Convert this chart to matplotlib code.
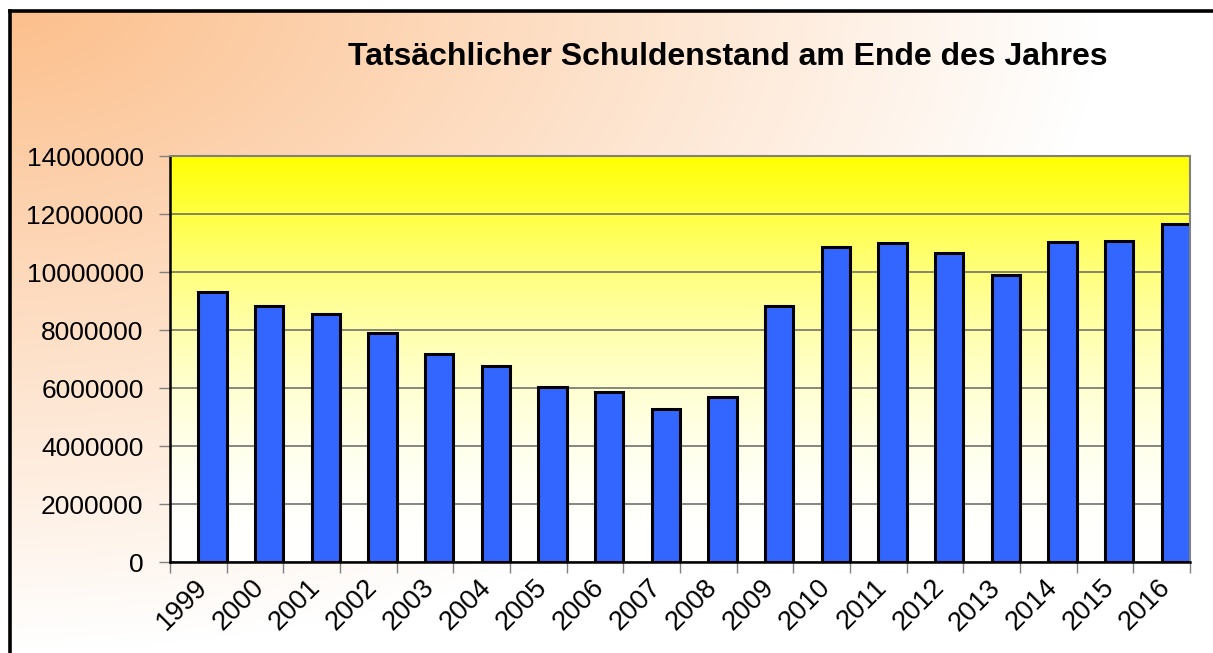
import numpy as np
import matplotlib
matplotlib.use('Agg')
import matplotlib.pyplot as plt
import matplotlib.transforms as mtransforms
from matplotlib.lines import Line2D

plt.rcParams['font.family'] = ['Liberation Sans', 'DejaVu Sans']

# data
annees = ['1999', '2000', '2001', '2002', '2003', '2004', '2005', '2006', '2007',
          '2008', '2009', '2010', '2011', '2012', '2013', '2014', '2015', '2016']
schulden = [9320000, 8820000, 8540000, 7890000, 7160000, 6760000, 6050000, 5850000, 5270000,
            5700000, 8840000, 10870000, 11010000, 10670000, 9900000, 11020000, 11060000, 11670000]
titre = 'Tatsächlicher Schuldenstand am Ende des Jahres'

W, H = 1213, 653
fig = plt.figure(figsize=(W / 100, H / 100), dpi=100)
fig.patch.set_facecolor('white')

# background gradient (orange in the top left corner -> white)
bg = fig.add_axes([0, 0, 1, 1], zorder=-10)
bg.set_axis_off()
xx, yy = np.meshgrid(np.linspace(0, 1, 400), np.linspace(0, 1, 220))
d = np.sqrt((xx * W / 1100.0) ** 2 + (yy * H / 650.0) ** 2)
f = np.clip(1 - d, 0, 1)[..., None]
orange = np.array([252, 190, 138]) / 255.0
img = (1 - f) * np.ones(3) + f * orange
bg.imshow(img, extent=[0, 1, 1, 0], aspect='auto', interpolation='bilinear')
bg.set_xlim(0, 1)
bg.set_ylim(1, 0)
# black frame on left and top
bg.add_line(Line2D([10 / W, 10 / W], [1, 11 / H], color='black', lw=2.6))
bg.add_line(Line2D([10 / W, 1], [11 / H, 11 / H], color='black', lw=2.6))
bg.fill_between([0, 8.5 / W], 0, 1, color='white')
bg.fill_between([0, 1], 0, 9.5 / H, color='white')

ax = fig.add_axes([170 / W, (H - 562) / H, 1020 / W, 406 / H])

# plot area gradient (yellow top -> white bottom)
t = np.linspace(0, 1, 256)[:, None]
blue = 1 - (1 - t) ** 2.0
grad = np.dstack([np.ones_like(blue), np.ones_like(blue), blue])
ax.imshow(grad, extent=[0, 18, 0, 14000000], aspect='auto', interpolation='bilinear', zorder=0)

x = np.arange(len(annees))
ax.bar(x + 0.75, schulden, width=0.5, color='#3366FF', edgecolor='black', linewidth=2.2, zorder=2)

ax.set_xlim(0, 18)
ax.set_ylim(0, 14000000)
ax.set_yticks(np.arange(0, 14000001, 2000000))
ax.yaxis.set_major_formatter(matplotlib.ticker.StrMethodFormatter('{x:.0f}'))
ax.grid(axis='y', color='#666666', lw=1.1)
ax.set_axisbelow(True)

ax.set_xticks(np.arange(0, 19))
ax.set_xticklabels([])
ax.set_xticks(x + 0.5, minor=True)
ax.set_xticklabels(annees, minor=True, rotation=45, ha='right', va='top', rotation_mode='anchor')
ax.tick_params(axis='x', which='major', direction='out', length=8, width=1, color='#808080')
ax.tick_params(axis='x', which='minor', length=0, pad=9, labelsize=19.5)
ax.tick_params(axis='y', direction='out', length=8, width=1, color='#808080', pad=11, labelsize=19)
offset = mtransforms.ScaledTranslation(-4 / 100, 0, fig.dpi_scale_trans)
for lab in ax.get_xticklabels(minor=True):
    lab.set_transform(lab.get_transform() + offset)

ax.spines['left'].set_color('black')
ax.spines['left'].set_linewidth(1.8)
ax.spines['bottom'].set_color('black')
ax.spines['bottom'].set_linewidth(1.8)
ax.spines['top'].set_color('#808080')
ax.spines['top'].set_linewidth(1.5)
ax.spines['right'].set_color('#808080')
ax.spines['right'].set_linewidth(1.5)

fig.text(728 / W, 1 - 57 / H, titre, ha='center', va='center', fontsize=23, fontweight='bold')

fig.savefig('out.png', dpi=100)
